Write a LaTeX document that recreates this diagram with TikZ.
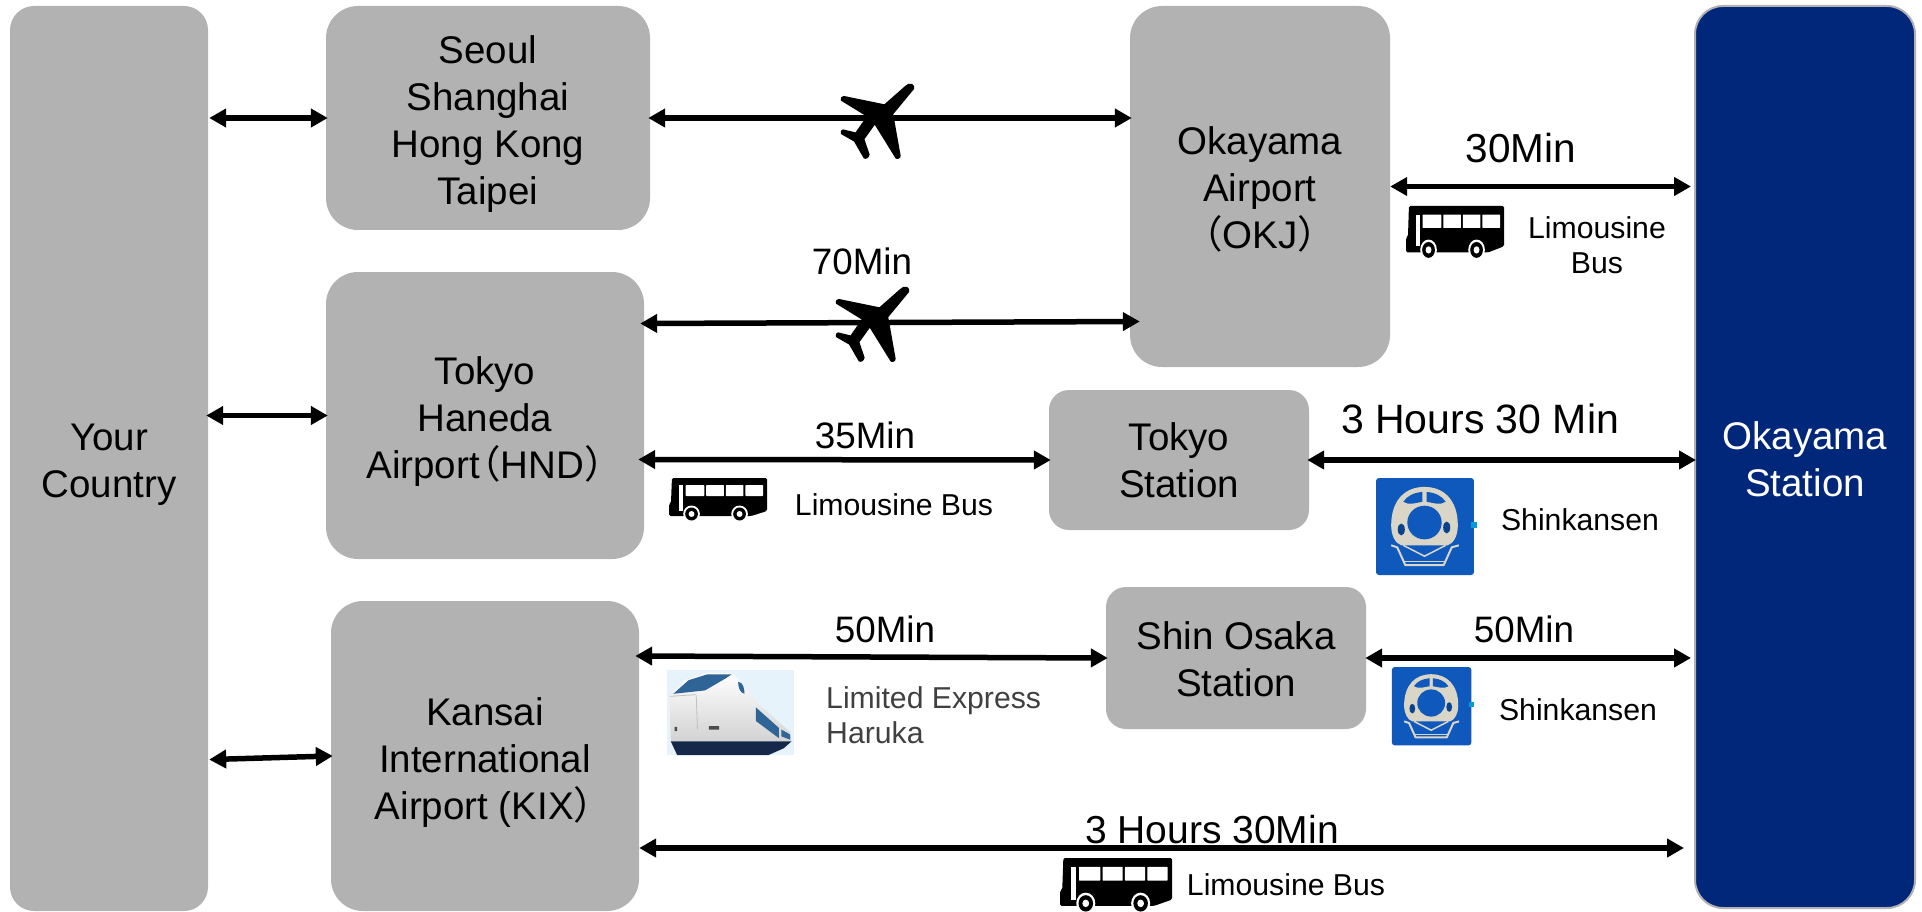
\documentclass[tikz,border=0pt]{standalone}
\usepackage{fontspec}
\setmainfont{Liberation Sans}
\newfontfamily\cjkparen{Noto Sans CJK JP}
\usetikzlibrary{arrows.meta}
\definecolor{boxgray}{HTML}{B2B2B2}
\definecolor{navy}{HTML}{00277A}
\definecolor{sblue}{HTML}{0F58BC}
\definecolor{scream}{HTML}{D9D6C8}
\definecolor{hsky}{HTML}{E6F3FB}
\definecolor{hglass}{HTML}{2E6496}
\definecolor{hunder}{HTML}{16284A}
\newcommand{\dn}[1]{\rule{0pt}{\dimexpr 28pt+2\dimexpr #1pt\relax\relax}}
\tikzset{
  place/.style={fill=boxgray,rounded corners=#1,inner sep=0pt,align=center,font=\fontsize{38.5}{47}\selectfont,text=black},
  place/.default=32pt,
  arr/.style={line width=5.5pt,shorten >=-2pt,shorten <=-2pt,{Triangle[length=17pt,width=18pt]}-{Triangle[length=17pt,width=18pt]},black},
  big/.style={font=\fontsize{36.8}{44}\selectfont,inner sep=0pt},
  bigger/.style={font=\fontsize{40.5}{48}\selectfont,inner sep=0pt},
  small/.style={font=\fontsize{30.2}{34.5}\selectfont,inner sep=0pt,align=center},
}
\newcommand{\planeicon}[2]{%
\begin{scope}[shift={(#1,#2)},x=0.74pt,y=-0.76pt]
\fill[black,line join=round] (97,1) .. controls (100,2) and (101,5) .. (100,8) -- (72,41) -- (82,96)
 .. controls (82,100) and (76,101) .. (75,99) -- (47,55) -- (33,74) -- (40,94)
 .. controls (40,99) and (34,101) .. (32,99) -- (19,77) -- (1,67) .. controls (0,64) and (1,62) .. (4,61)
 -- (21,65) -- (36,44) -- (1,23) .. controls (0,20) and (2,17) .. (5,17) -- (60,28) -- (88,4) .. controls (91,1) and (94,0) .. (97,1) -- cycle;
\end{scope}}
\newcommand{\busicon}[4]{%
\begin{scope}[shift={(#1,#2)},x=#3pt,y=-#4pt]
\fill[black,rounded corners=1.5pt] (3,0) -- (100,0) -- (100,33) -- (84,38) -- (0,38) -- (0,26) -- (2,25) -- cycle;
\fill[white,rounded corners=0.6pt] (17,7) rectangle (36,18) (38,7) rectangle (56,18) (58,7) rectangle (76,18) (78,7) rectangle (96,18);
\fill[white] (10,7) rectangle (14,33);
\foreach \wx in {23,72}{
  \fill[white] (\wx,36) circle (8.5);
  \fill[black] (\wx,36) circle (6.5);
  \fill[white] (\wx,36) circle (3);
}
\end{scope}}
\newcommand{\bulleticon}[4]{%
\begin{scope}[shift={(#1,#2)},x=#3pt,y=-#4pt]
\fill[sblue,rounded corners=3pt] (1,0) rectangle (98,98);
\fill[sblue!60!cyan] (95,44) rectangle (101,50);
\fill[scream] (16,48) .. controls (16,22) and (30,9) .. (49,9) .. controls (68,9) and (82,22) .. (82,48)
  .. controls (82,58) and (78,66) .. (72,68) -- (26,68) .. controls (20,66) and (16,58) .. (16,48) -- cycle;
\fill[sblue] (28,24) .. controls (32,18) and (38,15) .. (47,14) -- (47,24) .. controls (40,25) and (34,28) .. (28,24) -- cycle;
\fill[sblue] (70,24) .. controls (66,18) and (60,15) .. (51,14) -- (51,24) .. controls (58,25) and (64,28) .. (70,24) -- cycle;
\fill[sblue] (49,45) circle (17);
\fill[sblue!75!black] (26,52) ellipse (3.5 and 6);
\fill[sblue!75!black] (71,50) ellipse (3.5 and 6);
\fill[sblue] (22,70) -- (76,70) -- (68,85) -- (30,85) -- cycle;
\draw[scream,line width=2pt,line join=round] (16,68) -- (22,70) -- (30,88) -- (68,88) -- (76,70) -- (83,68);
\draw[scream,line width=1.5pt] (28,68) -- (49,79) -- (70,68);
\draw[scream,line width=1pt] (28,84) -- (70,84);
\end{scope}}
\newcommand{\harukaicon}[2]{%
\begin{scope}[shift={(#1,#2)},x=1.27pt,y=-0.85pt]
\fill[hsky] (0,0) rectangle (100,100);
\shade[top color=white,bottom color=gray!35] (2,30) -- (14,12) -- (32,3) -- (52,4) -- (60,18) -- (72,40) -- (97,73) -- (98,84) -- (3,84) -- cycle;
\fill[hglass] (5,28) -- (17,12) -- (32,5) -- (51,5) -- (46,10) -- (30,24) -- cycle;
\fill[hglass] (56,14) .. controls (60,14) and (61,22) .. (61,28) .. controls (58,27) and (56,22) .. (56,14) -- cycle;
\fill[hglass] (70,44) -- (88,68) -- (88,80) -- (70,60) -- cycle;
\fill[hglass] (90,70) -- (97,76) -- (97,82) -- (90,78) -- cycle;
\fill[black!70] (33,66) rectangle (41,70) (6,67) rectangle (8,72);
\fill[hunder] (3,84) -- (98,84) -- (92,92) -- (80,100) -- (8,100) -- cycle;
\draw[gray!50,line width=.8pt] (23,30) -- (24,70) (2,31) -- (23,29);
\end{scope}}
\begin{document}
\begin{tikzpicture}[x=1pt,y=-1pt]
\path[use as bounding box] (0,0) rectangle (1922,912);
% places
\node[place=24pt,minimum width=198pt,minimum height=905pt] (yc) at (109,458.5) {\dn{5.5}Your\\Country};
\node[place,minimum width=324pt,minimum height=224pt] (seoul) at (488,118) {\dn{6}Seoul\\Shanghai\\Hong Kong\\Taipei};
\node[place,minimum width=260pt,minimum height=361pt] (okj) at (1260,186.5) {\dn{2.5}Okayama\\Airport\\{\cjkparen（}OKJ{\cjkparen）}};
\node[place,minimum width=318pt,minimum height=287pt] (hnd) at (485,415.5) {\dn{6}Tokyo\\Haneda\\Airport\hspace{-.45em}{\cjkparen（}HND{\cjkparen）}\hspace*{-.5em}};
\node[place,minimum width=308pt,minimum height=310pt] (kix) at (485,756) {\dn{6}Kansai\\International\\Airport (KIX{\cjkparen）}\hspace*{-.45em}};
\node[place=20pt,minimum width=260pt,minimum height=140pt] (tokyo) at (1179,460) {Tokyo\\Station};
\node[place=20pt,minimum width=260pt,minimum height=142pt] (shin) at (1236,658) {\dn{1}Shin Osaka\\Station};
\node[place=28pt,fill=navy,draw=gray!60,line width=2pt,text=white,minimum width=220pt,minimum height=902pt] (oka) at (1805,457) {\dn{2.5}Okayama\\Station};
% connectors
\draw[arr] ([xshift=3pt]yc.east |- seoul) -- (seoul.west);
\draw[arr] (seoul.east) -- (okj.west |- seoul.east);
\draw[arr] ([xshift=-2pt,yshift=92pt]hnd.east) -- ([xshift=8pt,yshift=-135pt]okj.west);
\draw[arr] ([xshift=2pt]okj.east) -- ([xshift=-5pt]oka.west |- okj.east);
\draw[arr] (yc.east |- hnd) -- (hnd.west);
\draw[arr] ([xshift=-4pt,yshift=-44pt]hnd.east) -- (tokyo.west);
\draw[arr] (tokyo.east) -- (oka.west |- tokyo.east);
\draw[arr] ([xshift=3pt,yshift=-301pt]yc.east) -- (kix.west);
\draw[arr] ([xshift=-2pt,yshift=100pt]kix.east) -- (shin.west);
\draw[arr] ([xshift=1pt]shin.east) -- ([xshift=-5pt]oka.west |- shin.east);
\draw[arr] ([xshift=2pt,yshift=-92pt]kix.east) -- ([xshift=-12pt,yshift=-391pt]oka.west);
% labels
\node[big] (l70) at (862,261) {70Min};
\node[bigger] (l30) at (1521,148) {30Min};
\node[big] (l35) at (865,435) {35Min};
\node[font=\fontsize{41}{48}\selectfont,inner sep=0pt] (l330) at (1480,419) {3 Hours 30 Min};
\node[big] (l50a) at (885,629) {50Min};
\node[big] (l50b) at (1524,629) {50Min};
\node[font=\fontsize{39}{46}\selectfont,inner sep=0pt] (l330b) at (1212,830) {3 Hours 30Min};
\node[small] (lb1) at (1597,245) {Limousine\\Bus};
\node[small] (lb2) at (894,505) {Limousine Bus};
\node[small] (lb3) at (1286,885) {Limousine Bus};
\node[small] (ls1) at (1580,520) {Shinkansen};
\node[small] (ls2) at (1578,710) {Shinkansen};
\node[small,align=left,anchor=west,text=black!75] (lh) at (826,715) {Limited Express\\Haruka};
% icons
\planeicon{840}{83}
\planeicon{835}{286}
\busicon{1406}{206}{0.98}{1.22}
\busicon{669}{478}{0.98}{1.0}
\busicon{1060}{858}{1.12}{1.26}
\bulleticon{1375}{478}{1.01}{0.99}
\bulleticon{1391}{667}{0.82}{0.8}
\harukaicon{667}{670}
\end{tikzpicture}
\end{document}
